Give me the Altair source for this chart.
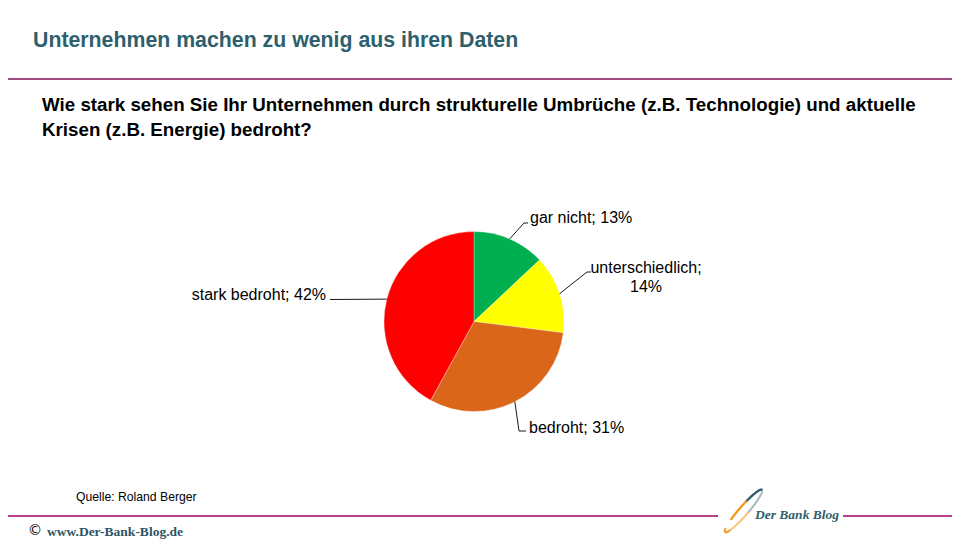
import altair as alt
import pandas as pd
import numpy as np

# ---------------- data ----------------
categories = ["gar nicht", "unterschiedlich", "bedroht", "stark bedroht"]
shares = [13, 14, 31, 42]
slice_colors = ["#00B050", "#FFFF00", "#DA6619", "#FF0000"]

title_text = "Unternehmen machen zu wenig aus ihren Daten"
question_lines = [
    "Wie stark sehen Sie Ihr Unternehmen durch strukturelle Umbrüche (z.B. Technologie) und aktuelle",
    "Krisen (z.B. Energie) bedroht?",
]
source_text = "Quelle: Roland Berger"
footer_text = "www.Der-Bank-Blog.de"
logo_text = "Der Bank Blog"

# ---------------- layout (page pixel coordinates) ----------------
M = 8
W, H = 960 - 2 * M, 540 - M
CX, CY, R = 474, 321.5, 90

XS = alt.Scale(domain=[M, M + W], range=[0, W], nice=False, zero=False)
YS = alt.Scale(domain=[M, M + H], range=[0, H], nice=False, zero=False)

TEAL = "#2E5F6C"
FONT = "Liberation Sans"


def xy(extra=None):
    enc = dict(x=alt.X("x:Q", scale=XS, axis=None), y=alt.Y("y:Q", scale=YS, axis=None))
    if extra:
        enc.update(extra)
    return enc


def text_layer(rows, **kw):
    df = pd.DataFrame(rows)
    return alt.Chart(df).mark_text(**kw).encode(**xy({"text": alt.Text("t:N")}))


# ---------------- pie ----------------
pie_df = pd.DataFrame({"cat": categories, "share": shares, "ord": list(range(len(shares)))})
pie = alt.Chart(pie_df).mark_arc(outerRadius=R, stroke="#ffffff", strokeWidth=0.3).encode(
    theta=alt.Theta("share:Q", stack=True),
    order=alt.Order("ord:Q"),
    color=alt.Color("cat:N", scale=alt.Scale(domain=categories, range=slice_colors), legend=None),
    x=alt.value(CX - M),
    y=alt.value(CY - M),
)

# label anchor points from the data (mid-angle of each slice)
vals = np.array(shares, dtype=float)
cum = np.cumsum(vals)
mid = (cum - vals / 2) / vals.sum() * 2 * np.pi
ax = CX + R * np.sin(mid)
ay = CY - R * np.cos(mid)

# leader elbows / ends and label placement (layout only)
elbows = [[(524, 223), (528, 223)], [(587, 272), (591, 272)], [(519, 431), (526, 431)], [(330, 299.5)]]
label_pos = [(530, 218, "left"), (646, 268, "center"), (529, 428, "left"), (326, 295, "right")]

lead_rows = []
for i in range(len(categories)):
    pts = [(ax[i], ay[i])] + elbows[i]
    for k, (x, y) in enumerate(pts):
        lead_rows.append({"id": i, "k": k, "x": x, "y": y})
leaders = alt.Chart(pd.DataFrame(lead_rows)).mark_line(color="#000000", strokeWidth=0.9).encode(
    **xy({"detail": alt.Detail("id:N"), "order": alt.Order("k:Q")})
)

label_layers = []
for i, c in enumerate(categories):
    x, y, al = label_pos[i]
    if c == "unterschiedlich":
        rows = [{"x": x, "y": y, "t": f"{c};"}, {"x": x, "y": y + 18.5, "t": f"{shares[i]}%"}]
    else:
        rows = [{"x": x, "y": y, "t": f"{c}; {shares[i]}%"}]
    label_layers.append(
        text_layer(rows, align=al, baseline="middle", font=FONT, fontSize=16, color="#000000")
    )

# ---------------- texts ----------------
title = text_layer([{"x": 33, "y": 46.5, "t": title_text}], align="left", baseline="alphabetic",
                   font=FONT, fontSize=21.3, fontWeight="bold", color=TEAL)
question = text_layer(
    [{"x": 42, "y": 111 + 25 * j, "t": s} for j, s in enumerate(question_lines)],
    align="left", baseline="alphabetic", font=FONT, fontSize=18.75, fontWeight="bold", color="#000000",
)
source = text_layer([{"x": 76, "y": 501, "t": source_text}], align="left", baseline="alphabetic",
                    font=FONT, fontSize=12.2, color="#000000")
copy_sym = text_layer([{"x": 35, "y": 535, "t": "©"}], align="center", baseline="alphabetic",
                      font="DejaVu Sans", fontSize=14.5, color="#111111")
footer = text_layer([{"x": 47, "y": 536, "t": footer_text}], align="left", baseline="alphabetic",
                    font="Liberation Serif", fontSize=13.5, color="#2B5566", fontWeight="bold")
logo_t = text_layer([{"x": 755, "y": 519, "t": logo_text}], align="left", baseline="alphabetic",
                    font="Liberation Serif", fontSize=13.5, fontStyle="italic", fontWeight="bold", color=TEAL)

# ---------------- rules ----------------
rule_df = pd.DataFrame([
    {"x": M, "x2": 960, "y": 79, "c": "top"},
    {"x": M, "x2": 718, "y": 516, "c": "bot"},
    {"x": 843, "x2": 960, "y": 516, "c": "bot"},
])
rules = alt.Chart(rule_df).mark_rule(strokeWidth=1.3).encode(
    x=alt.X("x:Q", scale=XS, axis=None), x2="x2:Q", y=alt.Y("y:Q", scale=YS, axis=None),
    color=alt.Color("c:N", scale=alt.Scale(domain=["top", "bot"], range=["#7E1050", "#A0005C"]), legend=None),
)

# ---------------- logo swoosh ----------------
ecx, ecy, ea, eb, rot = 743.5, 511, 28, 4.5, np.deg2rad(-49)
def ell(t0, t1, n=30):
    t = np.linspace(t0, t1, n)
    ex, ey = ea * np.cos(t), eb * np.sin(t)
    return ecx + ex * np.cos(rot) - ey * np.sin(rot), ecy + ex * np.sin(rot) + ey * np.cos(rot)

segments = [(-0.05, -1.25), (-1.25, -2.1), (-2.7, -3.7), (0.3, 1.5), (1.5, 2.5)]
sw_rows = []
for sid, (t0, t1) in enumerate(segments):
    xs_, ys_ = ell(t0, t1)
    for k, (x, y) in enumerate(zip(xs_, ys_)):
        sw_rows.append({"id": sid, "k": k, "x": x, "y": y})
swoosh = alt.Chart(pd.DataFrame(sw_rows)).mark_line(strokeCap="round").encode(
    **xy({
        "detail": alt.Detail("id:N"),
        "order": alt.Order("k:Q"),
        "color": alt.Color("id:N", scale=alt.Scale(domain=[0, 1, 2, 3, 4],
                                                   range=["#2E5F6C", "#F29A1E", "#F5A030", "#A9BCC2", "#F7C27A"]), legend=None),
        "strokeWidth": alt.StrokeWidth("id:N", scale=alt.Scale(domain=[0, 1, 2, 3, 4], range=[2.4, 2.0, 1.8, 0.8, 1.0]), legend=None),
    })
)

chart = alt.layer(
    rules, pie, leaders, *label_layers, title, question, source, copy_sym, footer, swoosh, logo_t
).resolve_scale(
    color="independent", strokeWidth="independent"
).properties(
    width=W, height=H, padding=0, autosize=alt.AutoSizeParams(type="none"), background="#ffffff"
).configure_view(stroke=None)

chart.save("out.html", embed_options={"renderer": "svg", "actions": False})
